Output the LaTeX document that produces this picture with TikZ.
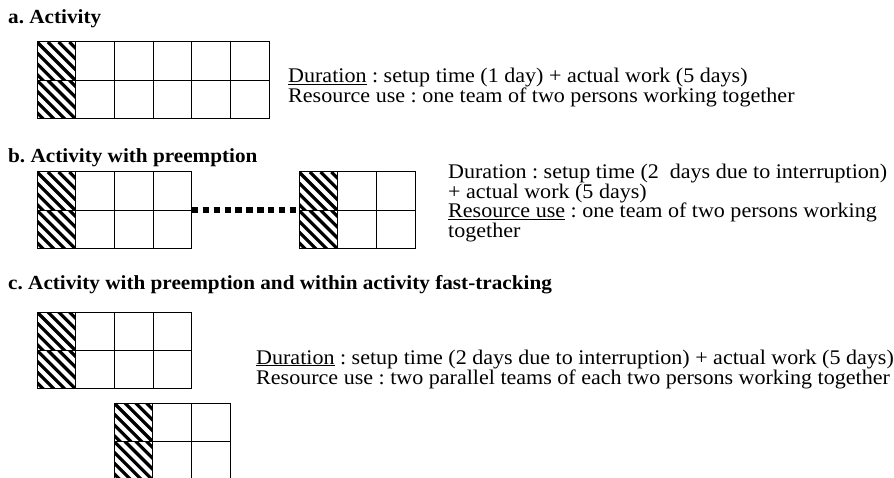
\documentclass[tikz,border=0pt]{standalone}
\usepackage{fontspec}
\setmainfont{Liberation Serif}[FakeStretch=1.06]
\frenchspacing
\begin{document}
\begin{tikzpicture}[x=1pt,y=-1pt,
  cell/.style={draw, line width=1pt, minimum width=38.7pt, minimum height=38.3pt,
    inner sep=0pt, outer sep=0pt, anchor=north west},
  hcell/.style={cell, path picture={
      \foreach \k in {-4,...,4}
        \draw[line width=3.2pt]
          ([xshift=\k*10.8pt]path picture bounding box.north west) -- ++(48pt,-48pt);}},
  title/.style={anchor=base west, inner sep=0pt, font=\fontsize{20}{20}\selectfont\bfseries},
  txt/.style={anchor=base west, inner sep=0pt, font=\fontsize{20.8}{20}\selectfont},
  bigdots/.style={line width=6.3pt, dash pattern=on 6.3pt off 4.6pt}
]
\useasboundingbox (0,0) rectangle (894,478);
\clip (0,0) rectangle (894,478);

% ---- a. Activity
\node[title] (ta) at (8,24) {a. Activity};
\foreach \r in {1,2}
  \foreach \c/\s in {1/hcell,2/cell,3/cell,4/cell,5/cell,6/cell}
    \node[\s] (a-\r-\c) at ({37+(\c-1)*38.7},{42+(\r-1)*38.3}) {};
\node[txt] (aDur) at (288,83) {\underline{Duration} : setup time (1 day) + actual work (5 days)};
\node[txt] (aRes) at (288,102.5) {Resource use : one team of two persons working together};

% ---- b. Activity with preemption
\node[title] (tb) at (8,163) {b. Activity with preemption};
\foreach \r in {1,2}
  \foreach \c/\s in {1/hcell,2/cell,3/cell,4/cell}
    \node[\s] (bl-\r-\c) at ({37+(\c-1)*38.7},{172+(\r-1)*38.3}) {};
\foreach \r in {1,2}
  \foreach \c/\s in {1/hcell,2/cell,3/cell}
    \node[\s] (br-\r-\c) at ({299+(\c-1)*38.7},{172+(\r-1)*38.3}) {};
\draw[bigdots] (bl-1-4.south east) -- (br-1-1.south west);
\node[txt] (bDur) at (448,179) {Duration : setup time (2\ \ days due to interruption)};
\node[txt] (bWork) at (448,198.5) {+ actual work (5 days)};
\node[txt] (bRes) at (448,218) {\underline{Resource use} : one team of two persons working};
\node[txt] (bTog) at (448,237.5) {together};

% ---- c. Activity with preemption and within activity fast-tracking
\node[title] (tc) at (8,290) {c. Activity with preemption and within activity fast-tracking};
\foreach \r in {1,2}
  \foreach \c/\s in {1/hcell,2/cell,3/cell,4/cell}
    \node[\s] (cu-\r-\c) at ({37+(\c-1)*38.7},{312+(\r-1)*38.3}) {};
\foreach \r in {1,2}
  \foreach \c/\s in {1/hcell,2/cell,3/cell}
    \node[\s] (cd-\r-\c) at ({114+(\c-1)*38.7},{403+(\r-1)*38.3}) {};
\node[txt] (cDur) at (256,364) {\underline{Duration} : setup time (2 days due to interruption) + actual work (5 days)};
\node[txt] (cRes) at (256,384) {Resource use : two parallel teams of each two persons working together};
\end{tikzpicture}
\end{document}
